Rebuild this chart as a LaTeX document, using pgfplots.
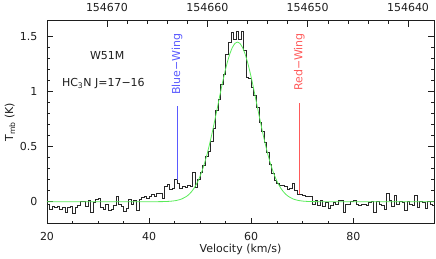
\documentclass[border=0pt]{standalone}
\usepackage{pgfplots}
\pgfplotsset{compat=1.18}
\usepackage{fontspec}
\setmainfont{DejaVu Sans}
\definecolor{fitgreen}{RGB}{90,235,90}
\definecolor{wingblue}{RGB}{90,90,255}
\definecolor{wingred}{RGB}{255,90,90}
\definecolor{spec}{RGB}{40,40,40}
\definecolor{txt}{RGB}{30,30,30}

\pgfplotstableread{
v T
20.0 -0.02
20.5 -0.07
21.0 -0.04
21.5 -0.05
22.0 -0.04
22.5 -0.07
23.0 -0.05
23.5 -0.10
24.0 -0.05
24.5 -0.04
25.0 -0.11
25.5 -0.05
26.0 -0.03
26.5 0.00
27.0 0.00
27.5 -0.04
28.0 0.01
28.5 -0.10
29.0 -0.01
29.5 0.02
30.0 0.03
30.5 -0.05
31.0 -0.07
31.5 -0.02
32.0 -0.08
32.5 -0.07
33.0 -0.03
33.5 0.05
34.0 -0.02
34.5 -0.04
35.0 -0.09
35.5 -0.06
36.0 0.02
36.5 -0.02
37.0 0.01
37.5 -0.08
38.0 0.02
38.5 0.04
39.0 0.05
39.5 0.03
40.0 0.05
40.5 0.07
41.0 0.05
41.5 0.08
42.0 0.08
42.5 0.03
43.0 0.14
43.5 0.16
44.0 0.11
44.5 0.12
45.0 0.20
45.5 0.17
46.0 0.12
46.5 0.14
47.0 0.13
47.5 0.15
48.0 0.14
48.5 0.27
49.0 0.13
49.5 0.20
50.0 0.27
50.5 0.33
51.0 0.41
51.5 0.46
52.0 0.55
52.5 0.67
53.0 0.83
53.5 0.93
54.0 1.07
54.5 1.16
55.0 1.34
55.5 1.45
56.0 1.54
56.5 1.48
57.0 1.55
57.5 1.48
58.0 1.55
58.5 1.38
59.0 1.13
59.5 1.12
60.0 1.04
60.5 0.97
61.0 0.86
61.5 0.72
62.0 0.64
62.5 0.54
63.0 0.45
63.5 0.34
64.0 0.26
64.5 0.19
65.0 0.17
65.5 0.15
66.0 0.15
66.5 0.14
67.0 0.11
67.5 0.12
68.0 0.17
68.5 0.10
69.0 0.07
69.5 0.07
70.0 0.06
70.5 0.05
71.0 0.05
71.5 0.05
72.0 -0.02
72.5 0.01
73.0 -0.03
73.5 0.01
74.0 -0.04
74.5 -0.01
75.0 -0.06
75.5 -0.03
76.0 -0.01
76.5 -0.02
77.0 0.01
77.5 0.01
78.0 -0.10
78.5 -0.02
79.0 -0.02
79.5 0.00
80.0 0.01
80.5 -0.02
81.0 -0.03
81.5 -0.02
82.0 -0.02
82.5 -0.03
83.0 -0.01
83.5 0.00
84.0 -0.10
84.5 0.00
85.0 -0.02
85.5 -0.03
86.0 -0.07
86.5 0.08
87.0 0.01
87.5 -0.04
88.0 0.06
88.5 -0.02
89.0 0.00
89.5 -0.01
90.0 -0.08
90.5 0.00
91.0 -0.02
91.5 -0.03
92.0 0.06
92.5 -0.05
93.0 0.00
93.5 -0.01
94.0 -0.06
94.5 0.00
95.0 -0.02
95.5 -0.03
96.0 -0.03
}\spectrum

\pgfplotstableread{
v T
20.0 0
41.3 0.0002
43.3 0.0018
44.3 0.0044
45.3 0.0105
46.3 0.023
47.3 0.0472
47.8 0.066
48.3 0.0905
48.8 0.122
49.3 0.162
49.8 0.211
50.3 0.2707
50.8 0.341
51.3 0.4225
51.8 0.515
52.3 0.616
52.8 0.725
53.3 0.838
53.8 0.953
54.3 1.066
54.8 1.170
55.3 1.264
55.8 1.342
56.3 1.401
56.8 1.4377
57.3 1.45
57.8 1.4377
58.3 1.401
58.8 1.342
59.3 1.264
59.8 1.170
60.3 1.066
60.8 0.953
61.3 0.838
61.8 0.725
62.3 0.616
62.8 0.515
63.3 0.4225
63.8 0.341
64.3 0.2707
64.8 0.211
65.3 0.162
65.8 0.122
66.3 0.0905
66.8 0.066
67.3 0.0472
68.3 0.023
69.3 0.0105
70.3 0.0044
71.3 0.0018
73.3 0.0002
96.0 0
}\fit

\pgfplotstableread{
v T
45.5 0.2
45.5 0.873
}\blueline
\pgfplotstableread{
v T
69.4 0.066
69.4 0.9
}\redline

\begin{document}
\begin{tikzpicture}[font=\fontsize{11}{13}\selectfont]
\begin{axis}[
  scale only axis, width=387pt, height=203pt,
  xmin=20, xmax=95.8, ymin=-0.2, ymax=1.645,
  xtick={20,40,60,80}, minor x tick num=3,
  ytick={0,0.5,1,1.5}, minor y tick num=4,
  xtick pos=bottom, ytick pos=both, tick align=inside,
  major tick length=6pt, minor tick length=3pt,
  every tick/.style={txt, line width=0.5pt},
  axis line style={txt, line width=0.6pt},
  /pgf/number format/assume math mode=true,
  ticklabel style={txt},
  yticklabel style={xshift=-6pt},
  xticklabel style={yshift=-5.5pt},
  xlabel={Velocity (km/s)},
  ylabel={T\textsubscript{mb} (K)},
  xlabel style={at={(axis description cs:0.5,-0.128)}, anchor=center, txt},
  ylabel style={at={(axis description cs:-0.0956,0.5)}, anchor=center, txt},
  clip=true,
]
\addplot[spec, line width=0.6pt, const plot] table[x=v,y=T] {\spectrum};
\addplot[fitgreen, line width=0.8pt, smooth, tension=0.3] table[x=v,y=T] {\fit};
\addplot[color=wingblue, solid, line width=1pt, mark=none] table[x=v,y=T] {\blueline};
\addplot[color=wingred, solid, line width=1pt, mark=none] table[x=v,y=T] {\redline};
\node[txt, anchor=center] at (axis cs:31.8,1.33) {W51M};
\node[txt, anchor=west, inner sep=0pt] at (axis cs:22.9,1.073) {HC\textsubscript{3}N J=17−16};
\node[wingblue, rotate=90, anchor=center] at (axis cs:45.5,1.25) {Blue−Wing};
\node[wingred, rotate=90, anchor=center] at (axis cs:69.4,1.27) {Red−Wing};
\end{axis}
\begin{axis}[
  scale only axis, width=387pt, height=203pt,
  xmin=154637.41, xmax=154675.98, x dir=reverse,
  ymin=0, ymax=1,
  axis x line*=top, hide y axis,
  xtick={154640,154650,154660,154670}, minor x tick num=4,
  scaled x ticks=false,
  xticklabels={154640,154650,154660,154670},
  tick align=inside,
  major tick length=6pt, minor tick length=3pt,
  every tick/.style={txt, line width=0.5pt},
  axis line style={txt, line width=0.6pt},
  xticklabel style={txt, yshift=5.5pt},
]
\end{axis}
\path ([xshift=-47pt,yshift=-33pt]current axis.south west) rectangle ([xshift=2pt,yshift=18pt]current axis.north east);
\end{tikzpicture}
\end{document}
